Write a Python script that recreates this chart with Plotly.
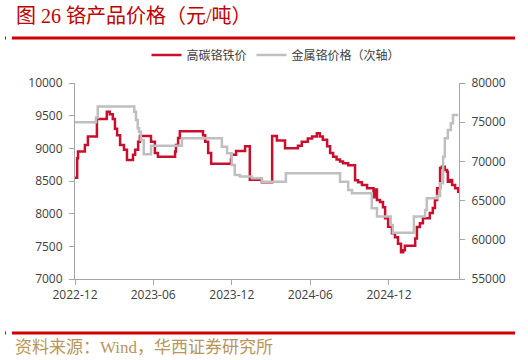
import plotly.graph_objects as go

# ---- data ----
ferro_dates = ["2022-12-01","2022-12-06","2022-12-08","2022-12-24","2022-12-31","2023-01-21","2023-02-13",
    "2023-02-20","2023-02-27","2023-03-04","2023-03-09","2023-03-16","2023-03-25","2023-04-01","2023-04-15",
    "2023-04-20","2023-04-27","2023-05-01","2023-05-27","2023-06-05","2023-06-12","2023-07-22","2023-07-24",
    "2023-07-29","2023-08-02","2023-09-25","2023-09-30","2023-10-07","2023-10-14","2023-11-29","2023-12-01",
    "2023-12-11","2024-01-01","2024-01-12","2024-02-09","2024-03-04","2024-03-15","2024-04-03","2024-05-03",
    "2024-05-12","2024-05-26","2024-06-05","2024-06-16","2024-06-23","2024-06-30","2024-07-10","2024-07-17",
    "2024-07-24","2024-08-01","2024-08-09","2024-08-16","2024-08-28","2024-09-13","2024-09-20","2024-09-29",
    "2024-10-11","2024-10-22","2024-10-26","2024-10-29","2024-11-03","2024-11-10","2024-11-17","2024-11-22",
    "2024-11-29","2024-12-08","2024-12-15","2024-12-22","2024-12-29","2025-01-03","2025-01-07","2025-01-31",
    "2025-02-04","2025-02-11","2025-02-18","2025-03-06","2025-03-13","2025-03-18","2025-03-23","2025-03-30",
    "2025-04-03","2025-04-10","2025-04-15","2025-04-17","2025-04-22","2025-04-27","2025-05-04","2025-05-11"]
ferro_values = [8550,8850,8950,9050,9180,9450,9560,
    9520,9450,9300,9200,9050,8980,8820,8900,
    8980,9100,9190,9100,8930,8870,8950,9050,
    9160,9260,9200,9100,8930,8765,8830,8900,
    8960,9030,8520,8480,9190,9120,9000,9040,
    9100,9150,9180,9230,9180,9130,9030,8930,
    8870,8830,8800,8770,8740,8510,8480,8440,
    8390,8390,8250,8370,8210,8180,8100,7930,
    7800,7700,7640,7540,7410,7440,7510,7620,
    7795,7855,7930,8010,8085,8210,8390,8700,
    8720,8670,8640,8490,8515,8440,8390,8315]

metal_dates = ["2022-12-01","2023-01-19","2023-01-23","2023-04-18","2023-04-22","2023-04-26","2023-04-29",
    "2023-05-03","2023-05-10","2023-05-27","2023-08-07","2023-11-08","2023-11-20","2023-12-01","2023-12-08",
    "2023-12-20","2024-01-17","2024-02-09","2024-04-05","2024-08-09","2024-08-28","2024-09-06","2024-10-22",
    "2024-11-03","2024-12-05","2024-12-10","2025-01-28","2025-02-23","2025-02-27","2025-03-23","2025-03-30",
    "2025-04-06","2025-04-10","2025-04-17","2025-04-24","2025-04-29","2025-05-11"]
metal_values = [75000,75600,77000,76340,75280,74220,73790,
    72730,70900,72000,72950,71880,71030,69540,68270,
    68060,67840,67400,68480,67410,66350,65930,64020,
    62960,61900,60910,62960,63800,65300,65590,67200,
    70600,72950,74000,74860,75920,75920]

x_tick_vals = ["2022-12-01","2023-06-01","2023-12-01","2024-06-01","2024-12-01"]
x_tick_text = ["2022-12","2023-06","2023-12","2024-06","2024-12"]
series_names = ["高碳铬铁价", "金属铬价格（次轴）"]
title_text = "图 26 铬产品价格（元/吨）"
source_text = "资料来源：Wind，华西证券研究所"

# ---- layout helpers (pixel -> paper) ----
W, H = 528, 360
L, R, T, B = 75, 459, 83, 279
def px(x): return (x - L) / (R - L)
def py(y): return (B - y) / (B - T)

RED = "#C8102E"
GREY = "#BFBFBF"
TXT = "#404040"
tickfont = dict(family="Open Sans, Noto Sans CJK SC", size=12, color=TXT)

fig = go.Figure()
fig.add_trace(go.Scatter(x=ferro_dates, y=ferro_values, name=series_names[0], mode="lines",
                         line=dict(color=RED, width=2.5, shape="hv")))
fig.add_trace(go.Scatter(x=metal_dates, y=metal_values, name=series_names[1], mode="lines",
                         line=dict(color=GREY, width=2.5, shape="hv"), yaxis="y2"))

fig.update_layout(
    width=W, height=H,
    margin=dict(l=L, r=W - R, t=T, b=H - B),
    paper_bgcolor="white", plot_bgcolor="white",
    showlegend=True,
    legend=dict(orientation="h", x=px(276), y=py(55), xanchor="center", yanchor="middle",
                font=dict(family="Noto Sans CJK SC", size=12, color=TXT), bgcolor="rgba(0,0,0,0)",
                itemwidth=30, tracegroupgap=0),
    xaxis=dict(type="date", range=["2022-12-01", "2025-05-13"], tickvals=x_tick_vals, ticktext=x_tick_text,
               showgrid=False, zeroline=False, showline=True, linecolor="#A6A6A6", linewidth=1,
               ticks="outside", ticklen=5, tickcolor="#A6A6A6", tickfont=tickfont),
    yaxis=dict(range=[7000, 10000], dtick=500, tick0=7000, tickformat="d", showgrid=False, zeroline=False,
               showline=True, linecolor="#A6A6A6", linewidth=1, ticks="outside", ticklen=5,
               tickcolor="#A6A6A6", tickfont=tickfont, ticklabelstandoff=4),
    yaxis2=dict(range=[55000, 80000], dtick=5000, tick0=55000, tickformat="d", overlaying="y", side="right",
                showgrid=False, zeroline=False, showline=True, linecolor="#A6A6A6", linewidth=1,
                ticks="outside", ticklen=5, tickcolor="#A6A6A6", tickfont=tickfont, ticklabelstandoff=4),
)

# title and source
fig.add_annotation(text=title_text, xref="paper", yref="paper", x=px(14), y=py(16),
                   xanchor="left", yanchor="middle", showarrow=False,
                   font=dict(family="Liberation Serif, Noto Sans CJK SC", size=20, color="#C00000"))
fig.add_annotation(text=source_text, xref="paper", yref="paper", x=px(13), y=py(347),
                   xanchor="left", yanchor="middle", showarrow=False,
                   font=dict(family="Liberation Serif, Noto Sans CJK SC", size=17, color="#B8965A"))
# decorative red rules
for yy in (38, 333):
    fig.add_shape(type="line", xref="paper", yref="paper", x0=px(12), x1=px(515), y0=py(yy), y1=py(yy),
                  line=dict(color="#D00000", width=3))
    fig.add_shape(type="line", xref="paper", yref="paper", x0=px(5), x1=px(6), y0=py(yy), y1=py(yy),
                  line=dict(color="#D00000", width=3))

fig.write_html("out.html")
